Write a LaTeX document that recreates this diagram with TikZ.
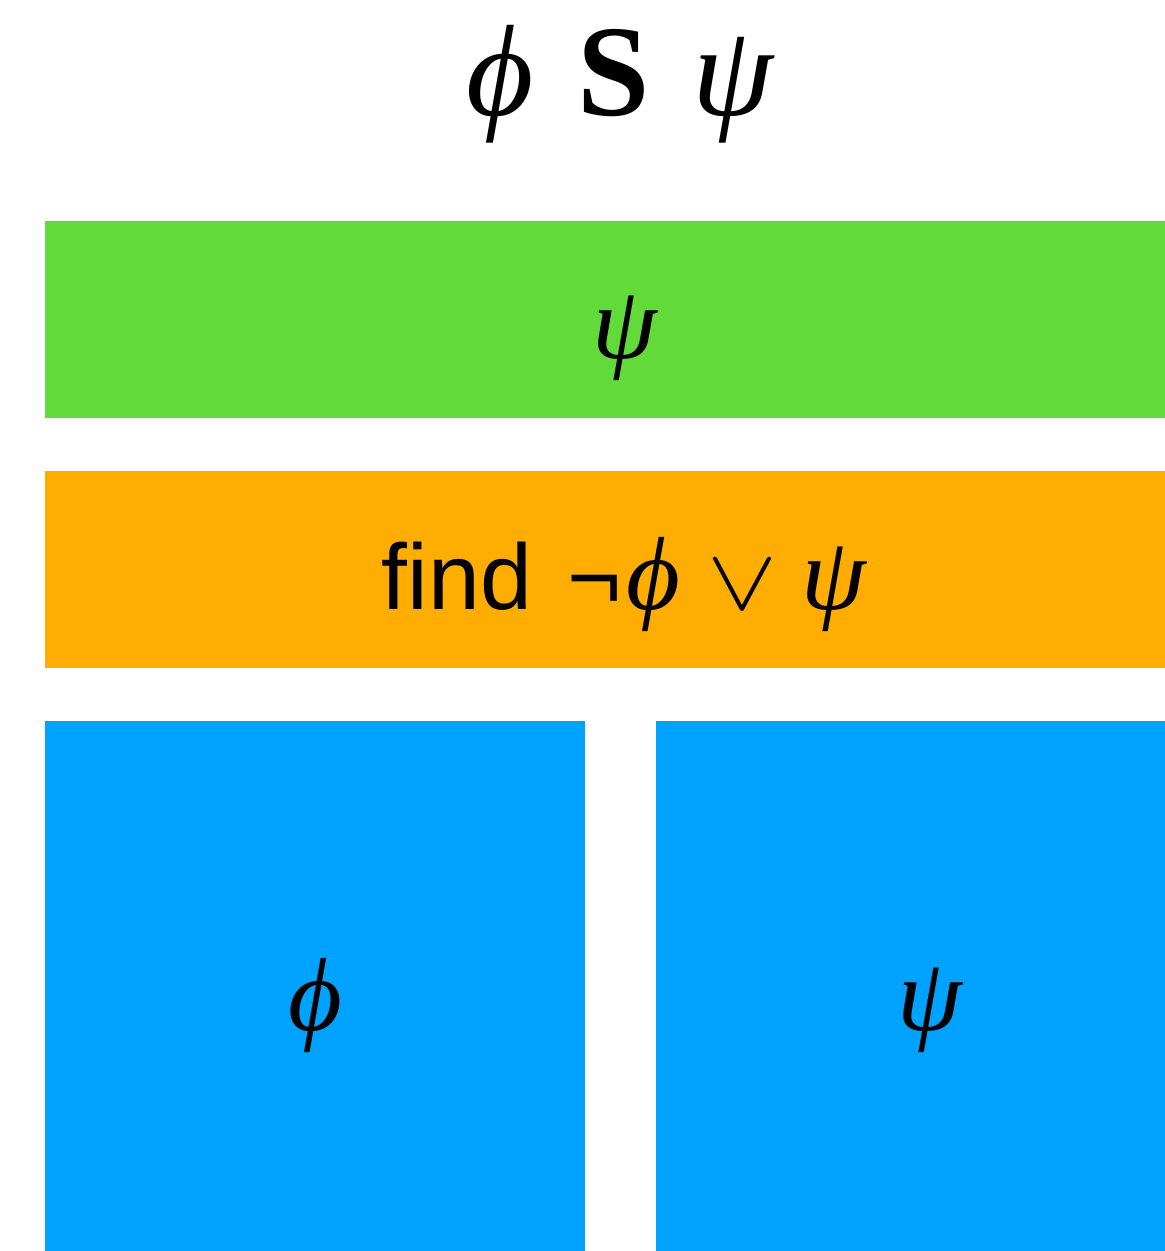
\documentclass[tikz,border=0pt]{standalone}
\usepackage{fontspec}
\setmainfont{Liberation Serif}
\setsansfont{Liberation Sans}
\definecolor{kngreen}{RGB}{98,219,58}
\definecolor{knorange}{RGB}{255,173,0}
\definecolor{knblue}{RGB}{0,162,255}
\newcommand{\gphi}{{\itshape ϕ}}
\newcommand{\gpsi}{{\itshape ψ}}
\begin{document}
\begin{tikzpicture}[x=0.1mm, y=-0.1mm,
  bar/.style={anchor=north west, inner sep=0pt, outer sep=0pt},
  sym/.style={anchor=base, inner sep=0pt, font=\fontsize{29.6}{32}\selectfont}]
\useasboundingbox (0,0) rectangle (1165,1251);
% Title
\node[anchor=base, inner sep=0pt, font=\fontsize{37}{40}\selectfont] (title) at (620,115) {\gphi\hspace{3pt} \textbf{S}\hspace{3pt} \gpsi};
% Since part
\node[bar, fill=kngreen, minimum width=112mm, minimum height=19.7mm] (since) at (45,221) {};
\node[sym] (sincelbl) at (625,358) {\gpsi};
% Search part
\node[bar, fill=knorange, minimum width=112mm, minimum height=19.7mm] (search) at (45,471) {};
\node[sym] (searchlbl) at (624,609) {{\sffamily\fontsize{26.5}{30}\selectfont find\hspace{10pt}¬}\hspace{1.5pt}\gphi\hspace{7.5pt}\scalebox{1.2}[1]{$\vee$}\hspace{7pt}\gpsi};
% Operands
\node[bar, fill=knblue, minimum width=54mm, minimum height=53mm] (left) at (45,721) {};
\node[bar, fill=knblue, minimum width=50.9mm, minimum height=53mm] (right) at (656,721) {};
\node[sym] (leftlbl) at (315,1030) {\gphi};
\node[sym] (rightlbl) at (930,1030) {\gpsi};
\end{tikzpicture}
\end{document}
